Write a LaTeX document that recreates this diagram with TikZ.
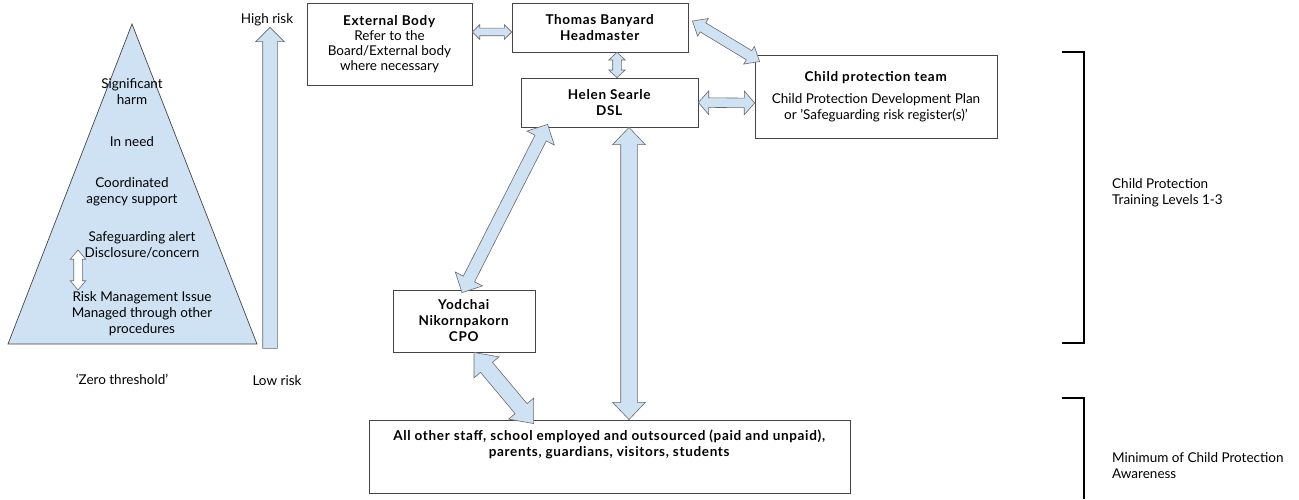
\documentclass[tikz,border=0pt]{standalone}
\usepackage{fontspec}
\setmainfont{Lato}[BoldFeatures={LetterSpace=5}]
\usepackage{tikz}
\usetikzlibrary{calc,shapes.arrows,positioning}
\definecolor{arrowfill}{HTML}{CFE2F3}
\definecolor{arrowline}{HTML}{6A6A6A}
\definecolor{boxline}{HTML}{454545}
% block arrow between two named points
\newcommand\blockarrow[3][]{%
  \path let \p1=($(#3)-(#2)$), \n1={atan2(\y1,\x1)}, \n2={veclen(\x1,\y1)} in
    node[blockarr,#1,minimum height=\n2,rotate=\n1] at ($(#2)!0.5!(#3)$) {};}
\tikzset{
  box/.style={draw=boxline,line width=0.8pt,align=center,inner sep=0pt},
  txt/.style={align=center,inner sep=0pt},
  blockarr/.style={double arrow,draw=arrowline,fill=arrowfill,line width=0.6pt,
    inner sep=0pt,minimum width=0pt,double arrow head indent=0pt},
  arr/.style n args={3}{inner ysep=#1,double arrow head extend=#2,double arrow tip angle=#3},
}
\begin{document}
\begin{tikzpicture}[x=1pt,y=1pt,font=\fontsize{13.5}{16}\selectfont]
\useasboundingbox (0,0) rectangle (1299,499);
% pyramid
\draw[draw=boxline,fill=arrowfill,line width=0.7pt](132,475)--(8,155)--(257,155)--cycle;
\node[txt](harm) at (132,407.5) {Significant\\harm};
\node[txt](need) at (132,357) {In need};
\node[txt](coord) at (132,307) {Coordinated\\agency support};
\node[txt](alert) at (142,254) {Safeguarding alert\\Disclosure/concern};
\node[txt](issue) at (142,185.5) {Risk Management Issue\\Managed through other\\procedures};
\node[txt](zero) at (122,120) {`Zero threshold'};
\coordinate (s1) at (78,249);
\coordinate (s2) at (78,209);
\blockarrow[fill=white,arr={4pt}{3.5pt}{80}]{s1}{s2}
% risk scale
\node[txt](high) at (267,479) {High risk};
\node[txt](low) at (277,118) {Low risk};
\coordinate (r1) at (270,147);
\coordinate (r2) at (270,468);
\blockarrow[single arrow,inner ysep=7pt,single arrow head extend=7pt,single arrow tip angle=90]{r1}{r2}
% boxes
\node[box,minimum width=165,minimum height=82](ext) at (389.5,455)
  {\textbf{External Body}\\[-1pt]Refer to the\\[-1pt]Board/External body\\[-1pt]where necessary};
\node[box,minimum width=176,minimum height=49](tb) at (600,471.5)
  {\textbf{Thomas Banyard}\\\textbf{Headmaster}};
\node[box,minimum width=177,minimum height=49](dsl) at (609.5,396.5)
  {\textbf{Helen Searle}\\\textbf{DSL}};
\node[box,minimum width=242,minimum height=83](cpt) at (876,402.5)
  {\textbf{Child protection team}\\[6pt]Child Protection Development Plan\\or 'Safeguarding risk register(s)'};
\node[box,minimum width=142,minimum height=62](cpo) at (464,178)
  {\textbf{Yodchai}\\\textbf{Nikornpakorn}\\\textbf{CPO}};
\node[box,minimum width=481,minimum height=73](all) at (609.5,42.5) {};
\node[txt,anchor=north](alltext) at ([yshift=-10pt]all.north)
  {\textbf{All other staff, school employed and outsourced (paid and unpaid),}\\\textbf{parents, guardians, visitors, students}};
% arrow ends
\coordinate (a1) at ([yshift=12pt]ext.east);
\coordinate (b1) at ([yshift=-4.5pt]tb.west);
\coordinate (a2) at ([xshift=17pt]tb.south);
\coordinate (b2) at ([xshift=7.5pt]dsl.north);
\coordinate (a3) at ([xshift=4pt,yshift=6.5pt]tb.east);
\coordinate (b3) at ([xshift=5pt,yshift=-7pt]cpt.north west);
\coordinate (b4) at ([yshift=-6.5pt]cpt.west);
\coordinate (a5) at ([xshift=27pt,yshift=3pt]dsl.south west);
\coordinate (b5) at ([xshift=-2pt,yshift=-3pt]cpo.north);
\coordinate (a6) at ([xshift=19.5pt]dsl.south);
\coordinate (b6) at ([xshift=19.5pt]all.north);
\coordinate (a7) at ([xshift=10pt]cpo.south);
\coordinate (b7) at ([xshift=165pt,yshift=-4pt]all.north west);
% links
\blockarrow[arr={3.5pt}{3.5pt}{90}]{a1}{b1}
\blockarrow[arr={4pt}{4pt}{95}]{a2}{b2}
\blockarrow[arr={5pt}{5pt}{80}]{a3}{b3}
\blockarrow[arr={4.5pt}{7pt}{98}]{dsl.east}{b4}
\blockarrow[arr={6pt}{9pt}{90}]{a5}{b5}
\blockarrow[arr={8pt}{8pt}{87}]{a6}{b6}
\blockarrow[arr={7.5pt}{8.5pt}{80}]{a7}{b7}
% training levels
\draw[line width=1.3pt](1062,447)--(1084,447)--(1084,156)--(1062,156);
\draw[line width=1.3pt](1062,101)--(1084,101)--(1084,0);
\node[txt,align=left,anchor=west](lvl) at (1112,306.5) {Child Protection\\Training Levels 1-3};
\node[txt,align=left,anchor=west](aware) at (1112,33) {Minimum of Child Protection\\Awareness};
\end{tikzpicture}
\end{document}
